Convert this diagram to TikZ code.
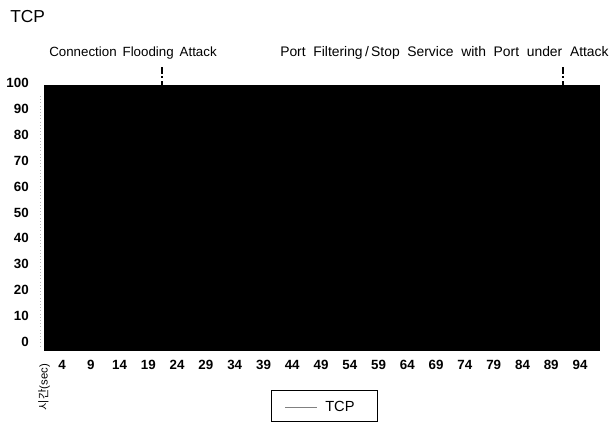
\documentclass[tikz,border=0pt]{standalone}
\usepackage{fontspec}
\setmainfont{Liberation Sans}
\newfontfamily\krfont{Noto Sans CJK KR}

\begin{document}
\begin{tikzpicture}[x=0.75pt,y=0.75pt,yscale=-1,xscale=1]
\useasboundingbox (0,0) rectangle (614,422);

%Shape: Rectangle [id:plotarea]
\draw  [fill=black, fill opacity=1 ] (44,85) -- (599,85) -- (599,350) -- (44,350) -- cycle ;
%Straight Lines [id:yaxis]
\draw [color=gray!55, dotted]   (40,96) -- (40,348) ;
%Straight Lines [id:floodmark]
\draw [line width=1.3pt, dash pattern=on 5pt off 2pt on 1.5pt off 2pt]   (162,67) -- (162,86) ;
%Straight Lines [id:filtermark]
\draw [line width=1.3pt, dash pattern=on 5pt off 2pt on 1.5pt off 2pt]   (563,67) -- (563,86) ;

% Text Node
\node (title) [anchor=west][inner sep=0.75pt] at (9,17) {\fontsize{13}{15}\selectfont TCP};
% Text Node
\node (floodtxt) [anchor=west][inner sep=0.75pt] at (48,53) {\fontsize{10}{12}\selectfont Connection\ \,Flooding\ \,Attack};
% Text Node
\node (filtertxt) [anchor=west][inner sep=0.75pt] at (279,53) {\fontsize{10.4}{12}\selectfont Port\ \ Filtering\,/\,Stop\ \ Service\ \ with\ \ Port\ \ under\ \ Attack};

% Text Node
\node (y100) [anchor=east][inner sep=0.75pt] at (30,83) {\fontsize{10}{12}\selectfont\bfseries 100};
% Text Node
\node (y90) [anchor=east][inner sep=0.75pt] at (30,108.9) {\fontsize{10}{12}\selectfont\bfseries 90};
% Text Node
\node (y80) [anchor=east][inner sep=0.75pt] at (30,134.8) {\fontsize{10}{12}\selectfont\bfseries 80};
% Text Node
\node (y70) [anchor=east][inner sep=0.75pt] at (30,160.7) {\fontsize{10}{12}\selectfont\bfseries 70};
% Text Node
\node (y60) [anchor=east][inner sep=0.75pt] at (30,186.6) {\fontsize{10}{12}\selectfont\bfseries 60};
% Text Node
\node (y50) [anchor=east][inner sep=0.75pt] at (30,212.5) {\fontsize{10}{12}\selectfont\bfseries 50};
% Text Node
\node (y40) [anchor=east][inner sep=0.75pt] at (30,238.4) {\fontsize{10}{12}\selectfont\bfseries 40};
% Text Node
\node (y30) [anchor=east][inner sep=0.75pt] at (30,264.3) {\fontsize{10}{12}\selectfont\bfseries 30};
% Text Node
\node (y20) [anchor=east][inner sep=0.75pt] at (30,290.2) {\fontsize{10}{12}\selectfont\bfseries 20};
% Text Node
\node (y10) [anchor=east][inner sep=0.75pt] at (30,316.1) {\fontsize{10}{12}\selectfont\bfseries 10};
% Text Node
\node (y0) [anchor=east][inner sep=0.75pt] at (30,342) {\fontsize{10}{12}\selectfont\bfseries 0};

% Text Node
\node (x4) [inner sep=0.75pt] at (62,365) {\fontsize{10}{12}\selectfont\bfseries 4};
% Text Node
\node (x9) [inner sep=0.75pt] at (90.8,365) {\fontsize{10}{12}\selectfont\bfseries 9};
% Text Node
\node (x14) [inner sep=0.75pt] at (119.6,365) {\fontsize{10}{12}\selectfont\bfseries 14};
% Text Node
\node (x19) [inner sep=0.75pt] at (148.3,365) {\fontsize{10}{12}\selectfont\bfseries 19};
% Text Node
\node (x24) [inner sep=0.75pt] at (177.1,365) {\fontsize{10}{12}\selectfont\bfseries 24};
% Text Node
\node (x29) [inner sep=0.75pt] at (205.9,365) {\fontsize{10}{12}\selectfont\bfseries 29};
% Text Node
\node (x34) [inner sep=0.75pt] at (234.7,365) {\fontsize{10}{12}\selectfont\bfseries 34};
% Text Node
\node (x39) [inner sep=0.75pt] at (263.5,365) {\fontsize{10}{12}\selectfont\bfseries 39};
% Text Node
\node (x44) [inner sep=0.75pt] at (292.2,365) {\fontsize{10}{12}\selectfont\bfseries 44};
% Text Node
\node (x49) [inner sep=0.75pt] at (321,365) {\fontsize{10}{12}\selectfont\bfseries 49};
% Text Node
\node (x54) [inner sep=0.75pt] at (349.8,365) {\fontsize{10}{12}\selectfont\bfseries 54};
% Text Node
\node (x59) [inner sep=0.75pt] at (378.6,365) {\fontsize{10}{12}\selectfont\bfseries 59};
% Text Node
\node (x64) [inner sep=0.75pt] at (407.4,365) {\fontsize{10}{12}\selectfont\bfseries 64};
% Text Node
\node (x69) [inner sep=0.75pt] at (436.1,365) {\fontsize{10}{12}\selectfont\bfseries 69};
% Text Node
\node (x74) [inner sep=0.75pt] at (464.9,365) {\fontsize{10}{12}\selectfont\bfseries 74};
% Text Node
\node (x79) [inner sep=0.75pt] at (493.7,365) {\fontsize{10}{12}\selectfont\bfseries 79};
% Text Node
\node (x84) [inner sep=0.75pt] at (522.5,365) {\fontsize{10}{12}\selectfont\bfseries 84};
% Text Node
\node (x89) [inner sep=0.75pt] at (551.2,365) {\fontsize{10}{12}\selectfont\bfseries 89};
% Text Node
\node (x94) [inner sep=0.75pt] at (580,365) {\fontsize{10}{12}\selectfont\bfseries 94};

% Text Node
\node (xlabel) [rotate=90][inner sep=0.75pt] at (44,387) {\fontsize{8.5}{10}\selectfont{\krfont 시간}(sec)};

%Shape: Rectangle [id:legendbox]
\draw  [fill=white] (271,390) -- (377,390) -- (377,421) -- (271,421) -- cycle ;
%Straight Lines [id:legendline]
\draw [color=gray, line width=0.4pt]   (285,407) -- (317,407) ;
% Text Node
\node (legendtxt) [anchor=west][inner sep=0.75pt] at (324,406) {\fontsize{11}{13}\selectfont TCP};

\end{tikzpicture}
\end{document}
